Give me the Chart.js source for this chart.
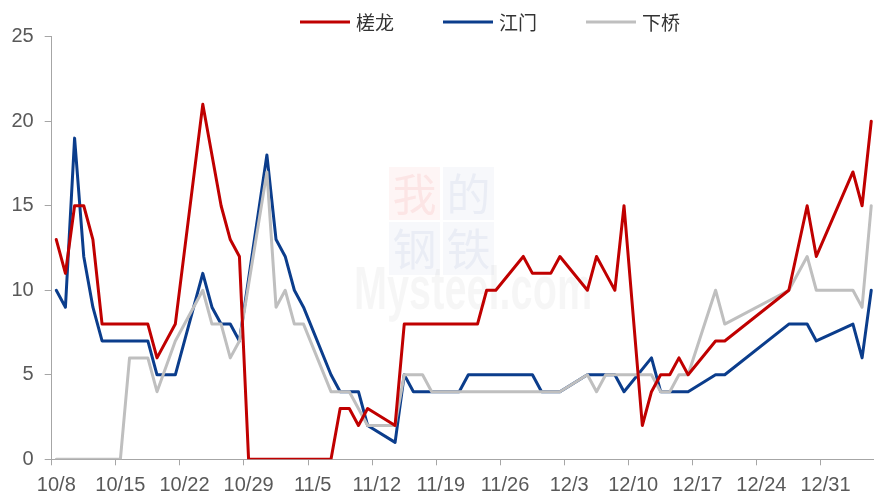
<!DOCTYPE html>
<html><head><meta charset="utf-8">
<script src="https://cdn.jsdelivr.net/npm/chart.js@4"></script>
<style>html,body{margin:0;padding:0;background:#fff}canvas{display:block}</style>
</head><body>
<canvas id="c" width="874" height="493"></canvas>
<script>
const n = null;
const dates = ['10/8','10/9','10/10','10/11','10/12','10/13','10/14','10/15','10/16','10/17',
'10/18','10/19','10/20','10/21','10/22','10/23','10/24','10/25','10/26','10/27',
'10/28','10/29','10/30','10/31','11/1','11/2','11/3','11/4','11/5','11/6',
'11/7','11/8','11/9','11/10','11/11','11/12','11/13','11/14','11/15','11/16',
'11/17','11/18','11/19','11/20','11/21','11/22','11/23','11/24','11/25','11/26',
'11/27','11/28','11/29','11/30','12/1','12/2','12/3','12/4','12/5','12/6',
'12/7','12/8','12/9','12/10','12/11','12/12','12/13','12/14','12/15','12/16',
'12/17','12/18','12/19','12/20','12/21','12/22','12/23','12/24','12/25','12/26',
'12/27','12/28','12/29','12/30','12/31','1/1','1/2','1/3','1/4','1/5'];
const tickLabels = ['10/8','10/15','10/22','10/29','11/5','11/12','11/19','11/26','12/3','12/10','12/17','12/24','12/31'];
const yTicks = [0,5,10,15,20,25];
const seriesNames = ['槎龙','江门','下桥'];
const chalong = [13,11,15,15,13,8,8,8,8,8,
 8,6,n,8,n,n,21,18,15,13,
 12,0,0,0,0,0,0,0,0,0,
 0,3,3,2,3,n,n,2,8,8,
 8,8,8,8,8,8,8,10,10,n,
 n,12,11,11,11,12,n,n,10,12,
 11,10,15,n,2,4,5,5,6,5,
 n,n,7,7,n,n,n,n,n,n,
 10,n,15,12,n,n,n,17,15,20];
const jiangmen = [10,9,19,12,9,7,7,7,7,7,
 7,5,5,5,n,n,11,9,8,8,
 7,n,n,18,13,12,10,9,n,n,
 5,4,4,4,2,n,n,1,5,4,
 4,4,4,4,4,5,5,5,5,5,
 5,5,5,4,4,4,n,n,5,5,
 5,5,4,n,n,6,4,4,4,4,
 n,n,5,5,n,n,n,n,n,n,
 8,8,8,7,n,n,n,8,6,10];
const xiaqiao = [0,0,0,0,0,0,0,0,6,6,
 6,4,n,7,n,n,10,8,8,6,
 7,n,n,17,9,10,8,8,n,n,
 4,4,4,n,2,2,2,2,5,5,
 5,4,4,4,4,4,4,4,4,4,
 4,4,4,4,4,4,n,n,5,4,
 5,5,5,5,5,5,4,4,5,5,
 n,n,10,8,n,n,n,n,n,n,
 10,n,12,10,10,10,10,10,9,15];

const colors = ['#C00000','#0B3D8C','#BFBFBF'];
const drawOrder = [0,2,1];
const values = [chalong, jiangmen, xiaqiao];
const toPoints = arr => arr.map((v,i)=>({x:i,y:v}));

const axisColor = '#A6A6A6';
const tickFont = {family:'"Liberation Sans", Arial, sans-serif', size:20};

const watermark = {
  id:'watermark',
  beforeDatasetsDraw(chart){
    const ctx = chart.ctx; ctx.save();
    const boxes = [
      {t:'我', x:389, y:167, bg:'rgba(235,90,90,0.06)', fg:'rgba(230,70,70,0.09)'},
      {t:'的', x:443, y:167, bg:'rgba(70,100,170,0.045)', fg:'rgba(70,100,170,0.07)'},
      {t:'钢', x:389, y:222, bg:'rgba(70,100,170,0.045)', fg:'rgba(70,100,170,0.07)'},
      {t:'铁', x:443, y:222, bg:'rgba(70,100,170,0.045)', fg:'rgba(70,100,170,0.07)'}];
    ctx.textAlign='center'; ctx.textBaseline='middle';
    ctx.font = '44px "Noto Sans CJK SC", sans-serif';
    boxes.forEach(b=>{
      ctx.fillStyle=b.bg; ctx.fillRect(b.x,b.y,51,53);
      ctx.fillStyle=b.fg; ctx.fillText(b.t,b.x+25.5,b.y+27);
    });
    ctx.fillStyle='rgba(0,0,0,0.035)';
    ctx.font='bold 62px "Liberation Sans", Arial, sans-serif';
    ctx.textAlign='left'; ctx.textBaseline='alphabetic';
    ctx.translate(354,309); ctx.scale(0.64,1);
    ctx.fillText('Mysteel.com',0,0);
    ctx.restore();
  }
};

const legendPlugin = {
  id:'customLegend',
  afterDraw(chart){
    const ctx = chart.ctx; ctx.save();
    ctx.font = '19px "Noto Sans CJK SC", sans-serif';
    ctx.textBaseline='middle'; ctx.textAlign='left';
    let x = 300; const y = 22;
    chart.data.datasets.slice().sort((a,b)=>a.idx-b.idx).forEach(ds=>{
      ctx.strokeStyle = ds.borderColor; ctx.lineWidth = 3; ctx.lineCap='butt';
      ctx.beginPath(); ctx.moveTo(x,y); ctx.lineTo(x+50,y); ctx.stroke();
      ctx.fillStyle='#333';
      ctx.fillText(ds.label, x+56, y+1);
      x += 56 + ctx.measureText(ds.label).width + 49;
    });
    ctx.restore();
  }
};

new Chart(document.getElementById('c'), {
  type:'line',
  data:{
    datasets: seriesNames.map((name,i)=>({
      label:name, idx:i, data:toPoints(values[i]),
      borderColor:colors[i], backgroundColor:colors[i],
      borderWidth:3, pointRadius:0, tension:0, spanGaps:true,
      borderJoinStyle:'round', borderCapStyle:'round', order:drawOrder[i]
    }))
  },
  options:{
    responsive:false, animation:false, devicePixelRatio:1,
    layout:{padding:{top:36.7, left:0, right:0, bottom:0}},
    plugins:{legend:{display:false}, tooltip:{enabled:false}},
    scales:{
      x:{
        type:'linear', min:-0.5, max:89.3,
        afterBuildTicks(scale){ scale.ticks = tickLabels.map((_,k)=>({value:k*7-0.5})); },
        afterFit(scale){ scale.height = 493-459.3; },
        ticks:{autoSkip:false, maxRotation:0, minRotation:0, padding:8, labelOffset:4.6,
          color:'#595959', font:tickFont,
          callback:(v,i)=>tickLabels[i]},
        grid:{drawOnChartArea:false, drawTicks:true, tickLength:6, color:axisColor},
        border:{display:true, color:axisColor, width:1}
      },
      y:{
        min:0, max:25,
        afterBuildTicks(scale){ scale.ticks = yTicks.map(v=>({value:v})); },
        afterFit(scale){ scale.width = 51.7; },
        ticks:{padding:11, color:'#595959', font:tickFont, callback:v=>String(v)},
        grid:{drawOnChartArea:false, drawTicks:true, tickLength:7, color:axisColor},
        border:{display:true, color:axisColor, width:1}
      }
    }
  },
  plugins:[watermark, legendPlugin]
});
</script>
</body></html>
